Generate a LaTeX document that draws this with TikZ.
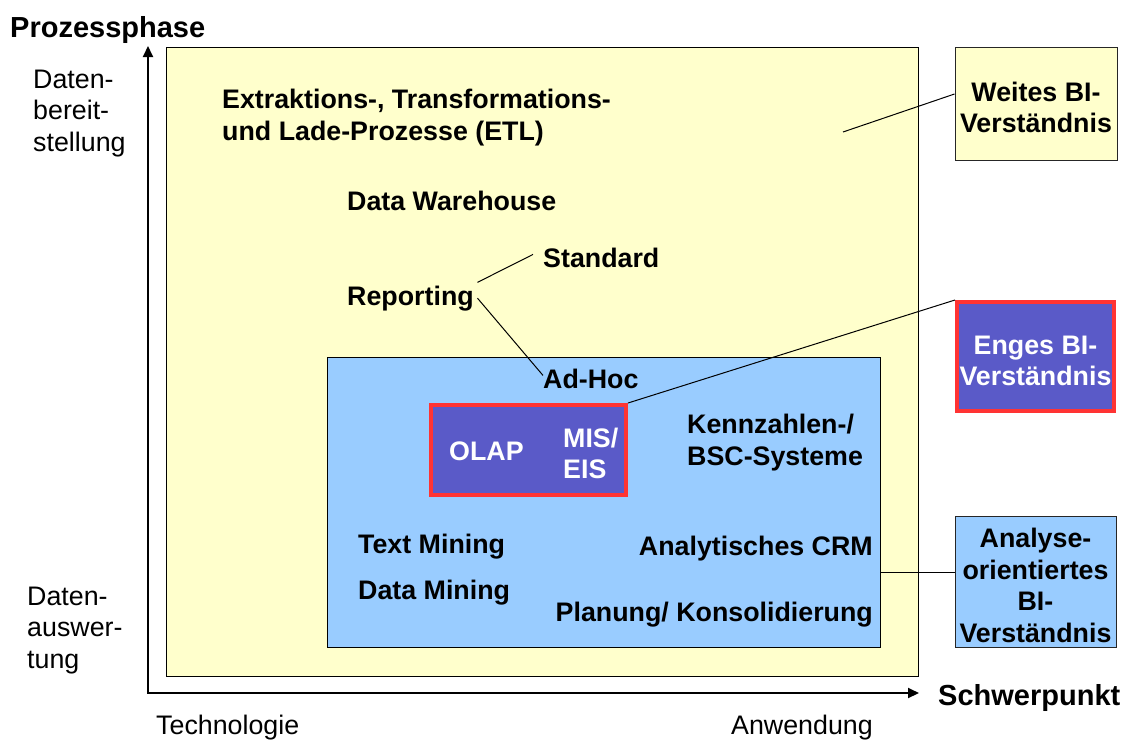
\documentclass[tikz,border=0pt]{standalone}
\usepackage{fontspec}
\setmainfont{Liberation Sans}
\usetikzlibrary{arrows.meta,calc}
\definecolor{paleyellow}{HTML}{FFFFCC}
\definecolor{skyblue}{HTML}{99CCFF}
\definecolor{violetfill}{RGB}{90,90,200}
\definecolor{redframe}{HTML}{FF3333}
\begin{document}
\begin{tikzpicture}[x=1pt,y=-1pt,
  lbl/.style={inner sep=0pt, font=\bfseries\fontsize{26.8}{31.5}\selectfont, align=left},
  plain/.style={inner sep=0pt, font=\fontsize{26.8}{31.5}\selectfont, align=left},
  axistitle/.style={inner sep=0pt, font=\bfseries\fontsize{29}{34}\selectfont},
  area/.style={draw=black, line width=1pt, inner sep=0pt},
  sidebox/.style={draw=black!85, line width=1pt, inner sep=0pt, align=center,
    font=\bfseries\fontsize{26.8}{31.5}\selectfont, minimum width=161pt},
  hot/.style={draw=redframe, line width=4pt, fill=violetfill, inner sep=0pt},
  conn/.style={line width=1pt},
  axisline/.style={line width=2pt, line join=miter,
    {Triangle[length=11pt,width=10pt]}-{Triangle[length=11pt,width=10pt]}}
]
\useasboundingbox (0,0) rectangle (1128,740);

% coordinate axes
\coordinate (origin) at (148,693);
\coordinate (ytip) at (148,46);
\coordinate (xtip) at (919,693);
\draw[axisline] (ytip) -- (origin) -- (xtip);

% nested areas
\node[area, fill=paleyellow, minimum width=752pt, minimum height=629pt] (wide) at (542,361.5) {};
\node[area, fill=skyblue, minimum width=553pt, minimum height=290pt] (narrow) at (603.5,502) {};
\node[hot, minimum width=195pt, minimum height=90pt] (olapbox) at (528.5,450) {};

% boxes on the right (extra text height lowers the lines a little)
\node[sidebox, fill=paleyellow, minimum width=162pt, minimum height=113pt, text height=59pt] (weites) at (1036,103.5) {Weites BI-\\Verständnis};
\node[sidebox, hot, text=white, minimum width=157pt, minimum height=109pt, text height=59pt] (enges) at (1035.5,356.5) {Enges BI-\\Verständnis};
\node[sidebox, fill=skyblue, minimum height=131pt, text height=122pt] (analyse) at (1035.5,581.5) {Analyse-\\orientiertes\\BI-\\Verständnis};

% axis titles and ends (multi-line nodes sit on their last baseline)
\node[axistitle, anchor=base west] (yname) at (10,37) {Prozessphase};
\node[axistitle, anchor=base west] (xname) at (938,705) {Schwerpunkt};
\node[plain, anchor=base west] (topend) at (33,151) {Daten-\\bereit-\\stellung};
\node[plain, anchor=base west] (bottomend) at (27,668) {Daten-\\auswer-\\tung};
\node[plain, anchor=base west] (tech) at (156,734) {Technologie};
\node[plain, anchor=base west] (appl) at (731,734) {Anwendung};

% labels inside the areas
\node[lbl, anchor=base west] (etl) at (222,140) {Extraktions-, Transformations-\\und Lade-Prozesse (ETL)};
\node[lbl, anchor=base west] (dwh) at (347,210) {Data Warehouse};
\node[lbl, anchor=base west, inner xsep=10pt] (standard) at (533,267) {Standard};
\node[lbl, anchor=base west, inner xsep=3.5pt, inner ysep=3pt] (reporting) at (343.5,305) {Reporting};
\node[lbl, anchor=base west] (adhoc) at (543,388) {Ad-Hoc};
\node[lbl, anchor=base west, text=white] (olap) at (449,460) {OLAP};
\node[lbl, anchor=base west, text=white] (miseis) at (563,478.5) {MIS/\\EIS};
\node[lbl, anchor=base west] (kpi) at (687,465) {Kennzahlen-/\\BSC-Systeme};
\node[lbl, anchor=base west] (textmining) at (358,553) {Text Mining};
\node[lbl, anchor=base west] (datamining) at (358,599) {Data Mining};
\node[lbl, anchor=base east] (crm) at (873,555) {Analytisches CRM};
\node[lbl, anchor=base east] (planning) at (873,621) {Planung/ Konsolidierung};

% connectors
\coordinate (widemark) at (843,132);
\coordinate (analysein) at ([yshift=9.5pt]analyse.west);
\draw[conn] (widemark) -- ([yshift=9.5pt]weites.west);
\draw[conn] (olapbox.north east) -- (enges.north west);
\draw[conn] (analysein -| narrow.east) -- (analysein);
\draw[conn] (reporting.north east) -- ([yshift=3pt]standard.west);
\draw[conn] (reporting.east) -- ([yshift=3pt]adhoc.west);
\end{tikzpicture}
\end{document}
